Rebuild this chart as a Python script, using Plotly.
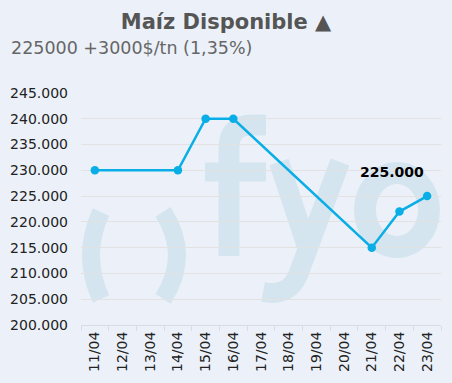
import plotly.graph_objects as go

# ---- data ----
dates = ["11/04", "12/04", "13/04", "14/04", "15/04", "16/04", "17/04",
         "18/04", "19/04", "20/04", "21/04", "22/04", "23/04"]
prices = [230000, None, None, 230000, 240000, 240000, None,
          None, None, None, 215000, 222000, 225000]
y_ticks = [200000, 205000, 210000, 215000, 220000, 225000,
           230000, 235000, 240000, 245000]
title_text = "<b>Maíz Disponible ▲</b>"
subtitle_text = "225000 +3000$/tn (1,35%)"
last_label = "225.000"

# ---- style ----
W, H = 452, 383
ML, MR, MT, MB = 81, 11, 93, 58
BG = "#ECF1F9"
LINE = "#0AAEE6"
WM = "#D5E5F0"
FONT = "DejaVu Sans, Verdana, sans-serif"

PW = W - ML - MR
PH = H - MT - MB


def px(x, y):
    return (x - ML) / PW, (H - MB - y) / PH


def path(cmds):
    out = []
    for c in cmds:
        if isinstance(c, str):
            out.append(c)
        else:
            xx, yy = px(*c)
            out.append(f"{xx:.4f},{yy:.4f}")
    return " ".join(out)


fig = go.Figure()
fig.add_trace(go.Scatter(
    x=dates, y=prices, mode="lines+markers", connectgaps=True,
    line=dict(color=LINE, width=2.5),
    marker=dict(color=LINE, size=8.5),
    hoverinfo="skip", showlegend=False,
))

# watermark (decorative logo) drawn beneath the grid
wm_shapes = [
    ["M", (101, 212), "Q", (81, 255.5), (101, 299)],
    ["M", (163, 212), "Q", (191, 255.5), (163, 299)],
    ["M", (229, 256), "L", (229, 148), "Q", (229, 125), (252, 125), "L", (266, 125)],
    ["M", (205, 172), "L", (266, 172)],
    ["M", (279, 162), "L", (307, 247)],
    ["M", (340, 162), "L", (298, 275), "Q", (289, 297), (263, 292)],
]
widths = [18, 18, 21, 19, 20, 20]
shapes = []
for cmds, w in zip(wm_shapes, widths):
    shapes.append(dict(type="path", xref="paper", yref="paper", layer="below",
                       path=path(cmds), line=dict(color=WM, width=w)))
x0, y0 = px(397 - 32, 210 - 37)
x1, y1 = px(397 + 32, 210 + 37)
shapes.append(dict(type="circle", xref="paper", yref="paper", layer="below",
                   x0=x0, x1=x1, y0=y1, y1=y0, line=dict(color=WM, width=22)))
# cover the part of the watermark that spills past the plot's right edge
cx0, cy0 = px(W - MR, 0)
cx1, cy1 = px(W + 10, H)
shapes.append(dict(type="rect", xref="paper", yref="paper", layer="below",
                   x0=cx0, x1=cx1, y0=cy1, y1=cy0, line=dict(width=0),
                   fillcolor=BG))

sx, sy = px(9, 48)
fig.update_layout(
    width=W, height=H,
    margin=dict(l=ML, r=MR, t=MT, b=MB, pad=0),
    paper_bgcolor=BG, plot_bgcolor="rgba(0,0,0,0)",
    separators=",.",
    font=dict(family=FONT, color="#222222"),
    shapes=shapes,
    title=dict(text=title_text, x=0.5, xref="container", xanchor="center",
               y=1 - 22 / H, yref="container", yanchor="middle",
               font=dict(size=21, color="#555555", family=FONT)),
    annotations=[
        dict(text=subtitle_text, xref="paper", yref="paper", x=sx, y=sy,
             xanchor="left", yanchor="middle", showarrow=False,
             font=dict(size=17.5, color="#666666", family=FONT)),
        dict(text="<b>" + last_label + "</b>", x=dates[-1], y=prices[-1],
             xref="x", yref="y", xanchor="right", yanchor="middle",
             xshift=-1, yshift=24, showarrow=False,
             font=dict(size=14, color="#000000", family=FONT)),
    ],
    xaxis=dict(
        type="category", categoryorder="array", categoryarray=dates,
        range=[-0.5, len(dates) - 0.5],
        tickangle=-90, tickson="boundaries", ticks="outside", ticklen=5,
        tickcolor="#D8DCE4", showline=True, linecolor="#D8DCE4", linewidth=1,
        showgrid=False, tickfont=dict(size=14, color="#222222"),
        fixedrange=True,
    ),
    yaxis=dict(
        range=[200000, 245000], tickvals=y_ticks, tickformat=",.0f",
        showgrid=True, gridcolor="#E2E2E2", gridwidth=1,
        zeroline=False, showline=False, ticks="",
        ticklabelstandoff=12,
        tickfont=dict(size=14, color="#222222"),
        fixedrange=True,
    ),
)

fig.write_html(
    "out.html",
    config={"displayModeBar": False},
    post_script="document.body.style.margin='0';document.body.style.padding='0';",
)
